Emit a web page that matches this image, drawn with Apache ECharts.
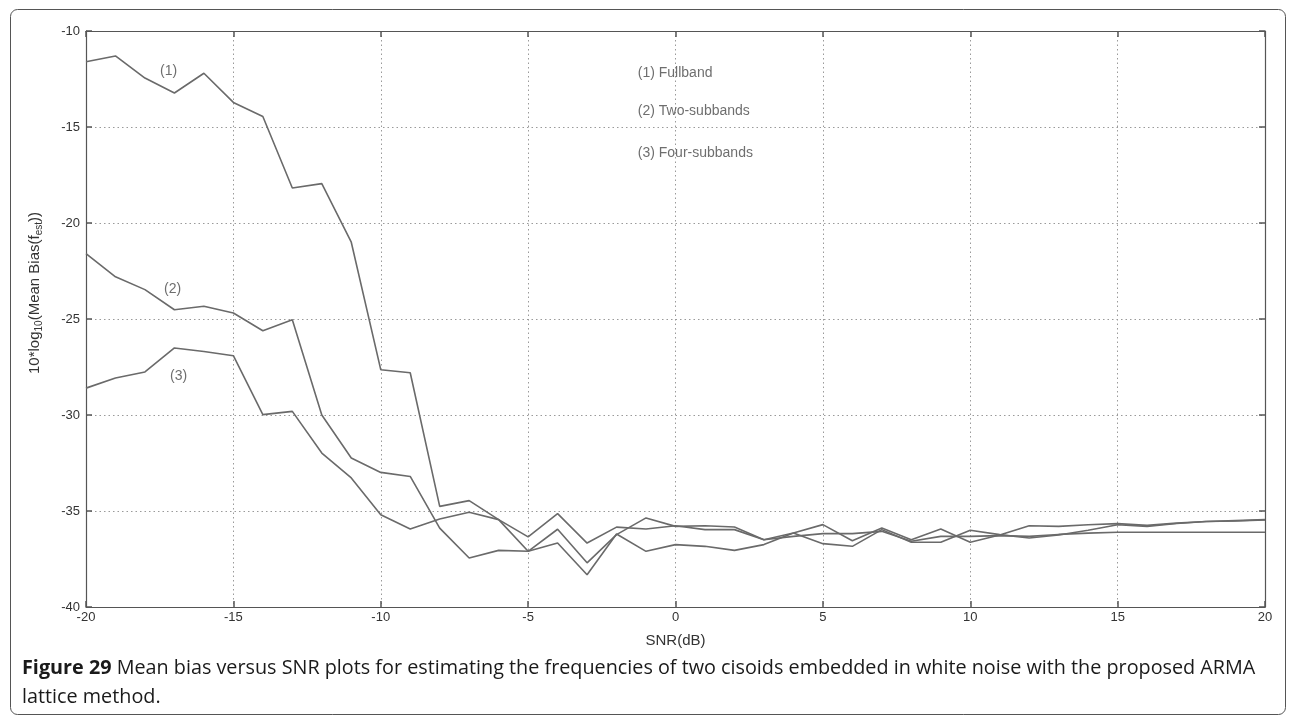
<!DOCTYPE html>
<html>
<head>
<meta charset="utf-8">
<script src="https://cdn.jsdelivr.net/npm/echarts@6/dist/echarts.min.js"></script>
<style>
html,body{margin:0;padding:0;background:#fff;}
#c{width:1291px;height:720px;}
</style>
</head>
<body>
<div id="c"></div>
<script>
// ---- data ----
var snr = [-20,-19,-18,-17,-16,-15,-14,-13,-12,-11,-10,-9,-8,-7,-6,-5,-4,-3,-2,-1,0,1,2,3,4,5,6,7,8,9,10,11,12,13,14,15,16,17,18,19,20];
var fullband = [-11.6,-11.3,-12.45,-13.23,-12.2,-13.72,-14.45,-18.18,-17.95,-21.0,-27.64,-27.8,-34.76,-34.46,-35.45,-37.1,-35.95,-37.7,-36.23,-35.36,-35.8,-35.77,-35.83,-36.5,-36.15,-35.71,-36.55,-35.89,-36.5,-35.94,-36.63,-36.25,-35.77,-35.8,-35.72,-35.66,-35.75,-35.63,-35.55,-35.5,-35.45];
var twoSubbands = [-21.6,-22.8,-23.47,-24.52,-24.34,-24.69,-25.61,-25.04,-30.0,-32.24,-32.99,-33.2,-35.89,-37.45,-37.05,-37.1,-36.67,-38.32,-36.2,-37.1,-36.75,-36.84,-37.05,-36.75,-36.15,-36.7,-36.84,-35.97,-36.63,-36.63,-36.0,-36.23,-36.41,-36.25,-36.0,-35.72,-35.8,-35.65,-35.55,-35.52,-35.47];
var fourSubbands = [-28.6,-28.07,-27.76,-26.51,-26.69,-26.91,-29.98,-29.81,-31.98,-33.28,-35.2,-35.94,-35.42,-35.07,-35.45,-36.35,-35.14,-36.67,-35.84,-35.94,-35.77,-35.97,-35.97,-36.5,-36.32,-36.18,-36.18,-36.06,-36.58,-36.32,-36.32,-36.28,-36.32,-36.22,-36.15,-36.11,-36.11,-36.11,-36.11,-36.11,-36.11];
var curveLabels = ['(1)','(2)','(3)'];
var curveLabelX = [-17.2,-17.06,-16.86];
var curveLabelY = [-12.07,-23.42,-28.0];
var legendTexts = ['(1) Fullband','(2) Two-subbands','(3) Four-subbands'];
var legendX = [-1.28,-1.28,-1.28];
var legendY = [-12.22,-14.2,-16.34];
var xTicks = [-20,-15,-10,-5,0,5,10,15,20];
var yTicks = [-40,-35,-30,-25,-20,-15,-10];

function zip(xs, ys){ return xs.map(function(x,i){ return [x, ys[i]]; }); }

var lineColor = '#6a6a6a';
var axisColor = '#555';
var labelColor = '#333';
var fontFam = '"Liberation Sans", Arial, sans-serif';
var capFont = '"Open Sans", sans-serif';

function lineSeries(name, ys){
  return {
    name: name, type: 'line', data: zip(snr, ys),
    symbol: 'none', lineStyle: {color: lineColor, width: 1.6},
    itemStyle: {color: lineColor}, animation: false, z: 3
  };
}

function textSeries(xs, ys, texts, align){
  return {
    type: 'scatter', symbolSize: 0, animation: false, silent: true, z: 4,
    data: xs.map(function(x,i){ return {value:[x, ys[i]], name: texts[i]}; }),
    label: {show: true, position: 'inside', formatter: function(p){ return p.name; },
      color: '#4a4a4a', fontSize: 14, fontFamily: fontFam, align: align, verticalAlign: 'middle'}
  };
}

var chart = echarts.init(document.getElementById('c'), null, {renderer: 'canvas'});

var baseX = {
  type: 'value', min: -20, max: 20, interval: 5,
  axisLine: {show: true, onZero: false, lineStyle: {color: axisColor, width: 1.2}},
  axisTick: {show: true, inside: true, length: 6, lineStyle: {color: axisColor, width: 1.5}},
  splitLine: {show: false}
};
var baseY = {
  type: 'value', min: -40, max: -10, interval: 5,
  axisLine: {show: true, onZero: false, lineStyle: {color: axisColor, width: 1.2}},
  axisTick: {show: true, inside: true, length: 6, lineStyle: {color: axisColor, width: 1.5}},
  splitLine: {show: false}
};

var option = {
  backgroundColor: '#fff',
  animation: false,
  grid: {left: 86, top: 31, width: 1179, height: 576, containLabel: false},
  xAxis: [
    Object.assign({}, baseX, {
      position: 'bottom',
      name: 'SNR(dB)', nameLocation: 'middle', nameGap: 26,
      nameTextStyle: {color: labelColor, fontSize: 15, fontFamily: fontFam},
      axisLabel: {show: true, color: labelColor, fontSize: 13, fontFamily: fontFam, margin: 4,
        formatter: function(v){ return xTicks.indexOf(v) >= 0 ? String(v) : ''; }},
      splitLine: {show: true, lineStyle: {color: '#9a9a9a', width: 1, type: [1.5, 3]}}
    }),
    Object.assign({}, baseX, {position: 'top', axisLabel: {show: false}})
  ],
  yAxis: [
    Object.assign({}, baseY, {
      position: 'left',
      name: '{m|10*log}{s|10}{m|(Mean Bias(f}{s|est}{m|))}',
      nameLocation: 'middle', nameGap: 42, nameRotate: 90,
      nameTextStyle: {color: labelColor, fontFamily: fontFam, padding: [0, 0, 0, 52],
        rich: {
          m: {fontSize: 15, color: labelColor, fontFamily: fontFam, lineHeight: 18},
          s: {fontSize: 10, color: labelColor, fontFamily: fontFam, lineHeight: 18, padding: [9,0,0,0]}
        }},
      axisLabel: {show: true, color: labelColor, fontSize: 13, fontFamily: fontFam, margin: 6,
        formatter: function(v){ return yTicks.indexOf(v) >= 0 ? String(v) : ''; }},
      splitLine: {show: true, lineStyle: {color: '#9a9a9a', width: 1, type: [1.5, 3]}}
    }),
    Object.assign({}, baseY, {position: 'right', axisLabel: {show: false}})
  ],
  series: [
    lineSeries('(1) Fullband', fullband),
    lineSeries('(2) Two-subbands', twoSubbands),
    lineSeries('(3) Four-subbands', fourSubbands),
    textSeries(curveLabelX, curveLabelY, curveLabels, 'center'),
    textSeries(legendX, legendY, legendTexts, 'left')
  ],
  graphic: [
    {type: 'rect', left: 8, top: 7, silent: true, z: -1,
      shape: {width: 1275, height: 705, r: 7},
      style: {fill: 'none', stroke: '#555', lineWidth: 1}},
    {type: 'text', x: 22, y: 668, silent: true,
      style: {text: '{b|Figure 29} Mean bias versus SNR plots for estimating the frequencies of two cisoids embedded in white noise with the proposed ARMA',
        fill: '#1a1a1a', fontSize: 19.8, fontFamily: capFont, verticalAlign: 'middle',
        rich: {b: {fontWeight: 'bold', fontSize: 19.8, fontFamily: capFont, fill: '#1a1a1a'}}}},
    {type: 'text', x: 22, y: 697, silent: true,
      style: {text: 'lattice method.', fill: '#1a1a1a', fontSize: 19.8, fontFamily: capFont, verticalAlign: 'middle'}}
  ]
};
chart.setOption(option);
</script>
</body>
</html>
